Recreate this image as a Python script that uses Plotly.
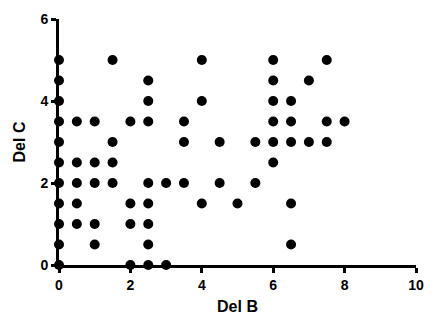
import plotly.graph_objects as go

del_b = [0, 0, 0, 0, 0, 0, 0, 0, 0, 0, 0,
         0.5, 1, 2, 2.5, 1.5, 2.5, 2.5, 1.5,
         0.5, 1, 1.5,
         0.5, 1, 1.5, 2.5, 3, 3.5, 4.5, 5.5,
         0.5, 2, 2.5,
         0.5, 1, 2, 2.5,
         1, 2.5,
         2, 2.5, 3,
         4, 6, 7.5,
         6, 7,
         4, 6, 6.5,
         3.5, 6, 6.5, 7.5, 8,
         3.5, 4.5, 5.5, 6, 6.5, 7, 7.5,
         6,
         4, 5, 6.5,
         6.5]
del_c = [0, 0.5, 1, 1.5, 2, 2.5, 3, 3.5, 4, 4.5, 5,
         3.5, 3.5, 3.5, 3.5, 5, 4.5, 4, 3,
         2.5, 2.5, 2.5,
         2, 2, 2, 2, 2, 2, 2, 2,
         1.5, 1.5, 1.5,
         1, 1, 1, 1,
         0.5, 0.5,
         0, 0, 0,
         5, 5, 5,
         4.5, 4.5,
         4, 4, 4,
         3.5, 3.5, 3.5, 3.5, 3.5,
         3, 3, 3, 3, 3, 3, 3,
         2.5,
         1.5, 1.5, 1.5,
         0.5]

x_ticks = [0, 2, 4, 6, 8, 10]
y_ticks = [0, 2, 4, 6]

fig = go.Figure(go.Scatter(
    x=del_b, y=del_c, mode="markers",
    marker=dict(color="black", size=10),
    cliponaxis=False,
))

font_family = "Liberation Sans, Arial, Helvetica, sans-serif"
axis_common = dict(
    showgrid=False, zeroline=False, showline=True, linecolor="black",
    linewidth=3, ticks="outside", ticklen=5, tickwidth=2.5, tickcolor="black",
    tickfont=dict(family=font_family, size=14, color="black", weight="bold"),
)

fig.update_layout(
    width=435, height=325,
    margin=dict(l=59, r=11, t=15, b=60),
    paper_bgcolor="white", plot_bgcolor="white",
    showlegend=False,
    xaxis=dict(range=[0, 10], tickvals=x_ticks,
               title=dict(text="Del B", standoff=10,
                          font=dict(family=font_family, size=16, color="black", weight="bold")),
               **axis_common),
    yaxis=dict(range=[0, 6], tickvals=y_ticks,
               title=dict(text="Del C", standoff=11,
                          font=dict(family=font_family, size=16, color="black", weight="bold")),
               **axis_common),
)

fig.write_html("out.html")
